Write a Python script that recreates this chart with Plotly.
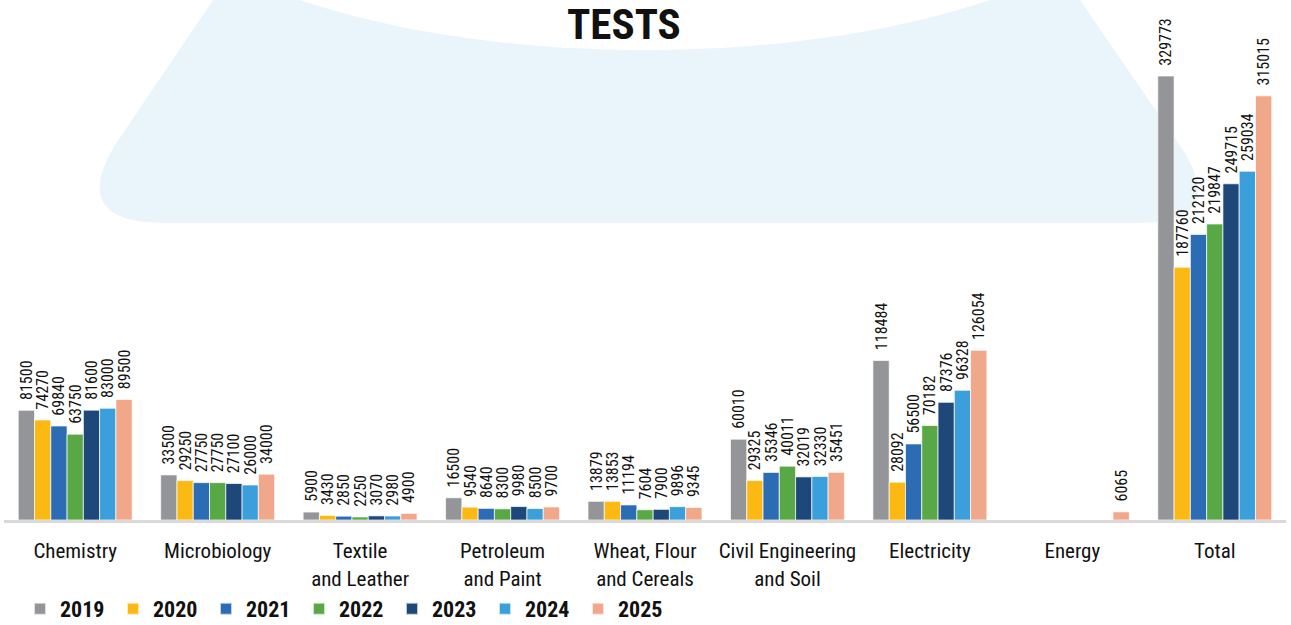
import plotly.graph_objects as go

categories = ["Chemistry", "Microbiology", "Textile<br>and Leather", "Petroleum<br>and Paint",
              "Wheat, Flour<br>and Cereals", "Civil Engineering<br>and Soil", "Electricity",
              "Energy", "Total"]
years = ["2019", "2020", "2021", "2022", "2023", "2024", "2025"]

v2019 = [81500, 33500, 5900, 16500, 13879, 60010, 118484, None, 329773]
v2020 = [74270, 29250, 3430, 9540, 13853, 29325, 28092, None, 187760]
v2021 = [69840, 27750, 2850, 8640, 11194, 35346, 56500, None, 212120]
v2022 = [63750, 27750, 2250, 8300, 7604, 40011, 70182, None, 219847]
v2023 = [81600, 27100, 3070, 9980, 7900, 32019, 87376, None, 249715]
v2024 = [83000, 26000, 2980, 8500, 9896, 32330, 96328, None, 259034]
v2025 = [89500, 34000, 4900, 9700, 9345, 35451, 126054, 6065, 315015]
series = [v2019, v2020, v2021, v2022, v2023, v2024, v2025]
colors = ["#939598", "#FDB913", "#2B6CB5", "#58A846", "#1D4879", "#3A9FDA", "#F1A78A"]

FONT = "Roboto Condensed, Liberation Sans Narrow, Arial Narrow, Roboto, sans-serif"

W, H = 1291, 625
L, R, T, B = 4, 5, 20, 105
PW, PH = W - L - R, H - T - B


def px(x):
    return (x - L) / PW


def py(y):
    return (H - B - y) / PH


fig = go.Figure()
for yr, vals, col in zip(years, series, colors):
    fig.add_trace(go.Bar(
        name=yr, x=categories, y=vals,
        marker=dict(color=col, line=dict(color="rgba(255,255,255,0.7)", width=1)),
        text=[("" if v is None else "\u00a0\u00a0" + str(v)) for v in vals],
        textposition="outside", textangle=-90, constraintext="none",
        textfont=dict(family=FONT, size=16, color="#111"),
        cliponaxis=False, hoverinfo="skip",
    ))

# background decorative shape
path = (f"M {px(213)},{py(0)} L {px(1080)},{py(0)} L {px(1183)},{py(150)} "
        f"Q {px(1228)},{py(223)} {px(1138)},{py(223)} L {px(165)},{py(223)} "
        f"Q {px(68)},{py(223)} {px(115)},{py(145)} Z")
shapes = [
    dict(type="path", path=path, xref="paper", yref="paper", fillcolor="#E9F5FA",
         line=dict(width=0), layer="below"),
    dict(type="circle", xref="paper", yref="paper", x0=px(123), x1=px(1167),
         y0=py(50), y1=py(-350), fillcolor="white", line=dict(width=0), layer="below"),
]

fig.update_layout(
    width=W, height=H,
    margin=dict(l=L, r=R, t=T, b=B, autoexpand=False),
    paper_bgcolor="white", plot_bgcolor="rgba(0,0,0,0)",
    barmode="group", bargap=0.2, bargroupgap=0.0,
    shapes=shapes,
    showlegend=True,
    legend=dict(orientation="h", xref="container", yref="container",
                x=20 / W, xanchor="left", y=(H - 609) / H, yanchor="middle",
                font=dict(family=FONT, size=22, color="#111", weight="bold"),
                itemwidth=30, itemsizing="constant", traceorder="normal",
                entrywidth=48, entrywidthmode="pixels"),
    annotations=[dict(text="<b>TESTS</b>", x=px(624), y=py(24), xref="paper", yref="paper",
                      showarrow=False, xanchor="center", yanchor="middle",
                      font=dict(family=FONT, size=43, color="#111"))],
    xaxis=dict(showline=True, linecolor="#D9D9D9", linewidth=3, showgrid=False,
               ticks="outside", ticklen=10, tickcolor="rgba(0,0,0,0)", automargin=False,
               tickfont=dict(family=FONT, size=21, color="#111"), fixedrange=True),
    yaxis=dict(visible=False, range=[0, 329773 * PH / 444], fixedrange=True, automargin=False),
)

fig.write_html("out.html", config={"displayModeBar": False},
               post_script="document.body.style.margin='0px';")
